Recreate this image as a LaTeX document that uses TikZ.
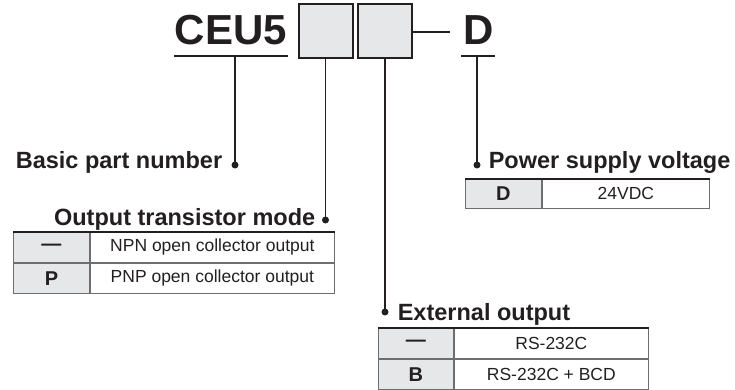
\documentclass[tikz,border=0pt]{standalone}
\usepackage{fontspec}
\setmainfont{Liberation Sans}
\usetikzlibrary{positioning}
\definecolor{cink}{HTML}{231F20}
\definecolor{cfill}{HTML}{E6E7E8}
\definecolor{cgrid}{HTML}{6D6E71}
\tikzset{
  every picture/.style={color=cink, line width=1.6pt},
  code/.style={font=\fontsize{42}{46}\selectfont\bfseries, inner sep=0pt},
  slot/.style={draw=cink, fill=cfill, line width=2pt, minimum width=54pt, minimum height=54pt, inner sep=0pt},
  dot/.style={circle, fill=cink, inner sep=0pt, minimum size=7pt},
  heading/.style={font=\fontsize{23.5}{27}\selectfont\bfseries, inner sep=0pt},
  keycell/.style={draw=cgrid, fill=cfill, line width=0.9pt, minimum width=76pt, minimum height=30pt, inner sep=0pt, font=\fontsize{20}{22}\selectfont\bfseries},
  valcell/.style={draw=cgrid, line width=0.9pt, minimum height=30pt, inner sep=0pt, font=\fontsize{17.5}{20}\selectfont},
  topline/.style={line width=2.2pt, draw=cink},
}

\begin{document}
\begin{tikzpicture}[x=1pt, y=-1pt, node distance=0pt]
  \useasboundingbox (0,0) rectangle (735,390);
  % part number
  \node[code, anchor=base west] (ceu) at (174,45) {CEU5};
  \node[slot] (slotA) at (325.5,31) {};
  \node[slot] (slotB) at (385,31) {};
  \node[code, anchor=base west] (volt) at (463,45) {D};
  \coordinate (dashend) at (450,32);
  \draw[line width=2.6pt] (slotB.east |- dashend) -- (dashend);
  \coordinate (ceuL) at (174,56); \coordinate (ceuR) at (288,56);
  \coordinate (voltL) at (461,56); \coordinate (voltR) at (495,56);
  \draw[line width=2.4pt] (ceuL) -- (ceuR);
  \draw[line width=2.4pt] (voltL) -- (voltR);
  \coordinate (ceuM) at (235,56); \coordinate (voltM) at (477,56);

  % leader dots and headings
  \node[dot] (dotBasic) at (235,165) {};
  \node[dot] (dotMode) at (325.5,220) {};
  \node[dot] (dotExt) at (385,312) {};
  \node[dot] (dotVolt) at (477,165) {};
  \draw (ceuM) -- (dotBasic.center);
  \draw (slotA.south) -- (dotMode.center);
  \draw (slotB.south) -- (dotExt.center);
  \draw (voltM) -- (dotVolt.center);
  \node[heading, anchor=base east] (hBasic) at (223,168) {Basic part number};
  \node[heading, anchor=base east] (hMode) at (316,225) {Output transistor mode};
  \node[heading, anchor=base west] (hVolt) at (488,168) {Power supply voltage};
  \node[heading, anchor=base west] (hExt) at (397,320) {External output};

  % output transistor mode table
  \node[keycell, anchor=north west] (modeK1) at (13,232) {---};
  \node[valcell, minimum width=244pt, right=of modeK1] (modeV1) {NPN open collector output};
  \node[keycell, below=of modeK1] (modeK2) {P};
  \node[valcell, minimum width=244pt, right=of modeK2] (modeV2) {PNP open collector output};
  \draw[topline] (modeK1.north west) -- (modeV1.north east);

  % power supply voltage table
  \node[keycell, minimum height=29pt, anchor=north west] (voltK1) at (465,179) {D};
  \node[valcell, minimum height=29pt, minimum width=167pt, right=of voltK1] (voltV1) {24VDC};
  \draw[topline] (voltK1.north west) -- (voltV1.north east);

  % external output table
  \node[keycell, minimum width=75pt, anchor=north west] (extK1) at (378,328) {---};
  \node[valcell, minimum width=194pt, right=of extK1] (extV1) {RS-232C};
  \node[keycell, minimum width=75pt, below=of extK1] (extK2) {B};
  \node[valcell, minimum width=194pt, right=of extK2] (extV2) {RS-232C + BCD};
  \draw[topline] (extK1.north west) -- (extV1.north east);
\end{tikzpicture}
\end{document}
